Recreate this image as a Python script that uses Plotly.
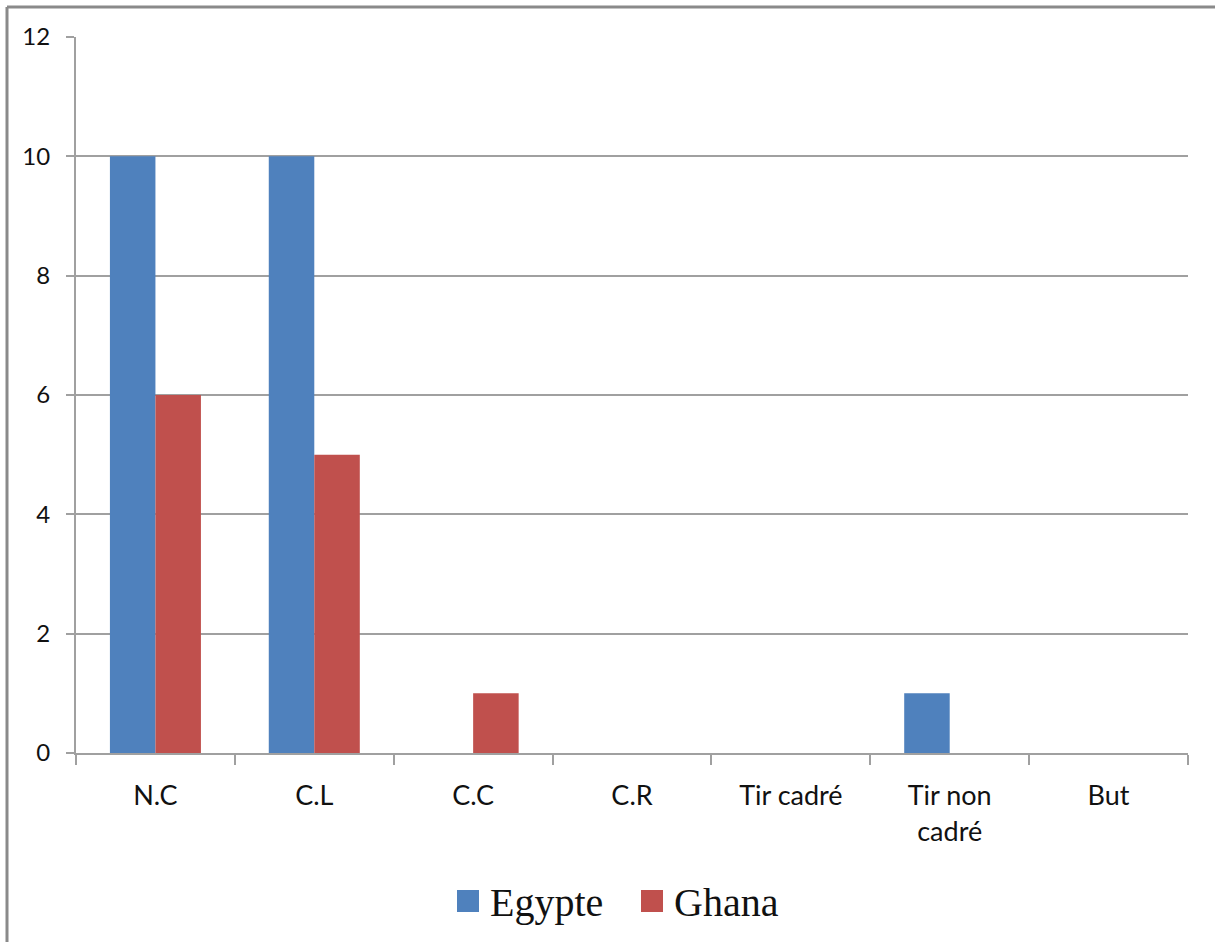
import plotly.graph_objects as go

# Actions counted per team
categories = ["N.C", "C.L", "C.C", "C.R", "Tir cadré", "Tir non<br>cadré", "But"]
egypte = [10, 10, 0, 0, 0, 1, 0]
ghana = [6, 5, 1, 0, 0, 0, 0]
series_names = ["Egypte", "Ghana"]
series_colors = ["#4F81BD", "#C0504D"]

W, H = 1215, 942
L, R, T, B = 76, 27, 37, 189
plot_w, plot_h = W - L - R, H - T - B

fig = go.Figure()
for name, vals, col in zip(series_names, [egypte, ghana], series_colors):
    fig.add_trace(go.Bar(x=categories, y=vals, name=name, marker_color=col,
                         marker_line_width=0, showlegend=False))

fig.update_layout(
    width=W, height=H,
    margin=dict(l=L, r=R, t=T, b=B),
    paper_bgcolor="white", plot_bgcolor="white",
    barmode="group", bargap=0.427, bargroupgap=0,
    font=dict(family="Lato, Open Sans, sans-serif", color="#111111"),
)
fig.update_xaxes(
    type="category", showgrid=False,
    showline=True, linecolor="#a0a0a0", linewidth=2,
    ticks="outside", tickson="boundaries", ticklen=10, tickcolor="#a0a0a0", tickwidth=2,
    tickfont=dict(size=27), ticklabelstandoff=18,
)
fig.update_yaxes(
    range=[0, 12], dtick=2, showgrid=True, gridcolor="#a0a0a0", gridwidth=1.5,
    showline=True, linecolor="#a0a0a0", linewidth=2,
    ticks="outside", ticklen=8, tickcolor="#a0a0a0", tickwidth=2,
    tickfont=dict(size=24), ticklabelstandoff=11, zeroline=False,
)

def px_x(px):
    return (px - L) / plot_w

def px_y(py):
    return (H - B - py) / plot_h

# Outer frame (top and left edges)
fig.add_shape(type="line", xref="paper", yref="paper",
              x0=px_x(7), x1=px_x(W + 5), y0=px_y(7), y1=px_y(7),
              line=dict(color="#8a8a8a", width=3))
fig.add_shape(type="line", xref="paper", yref="paper",
              x0=px_x(7), x1=px_x(7), y0=px_y(7), y1=px_y(H + 5),
              line=dict(color="#8a8a8a", width=3))

# Legend drawn below the plot
legend_items = [(457, 488), (641, 672)]
for (mx, tx), name, col in zip(legend_items, series_names, series_colors):
    fig.add_shape(type="rect", xref="paper", yref="paper",
                  x0=px_x(mx), x1=px_x(mx + 22), y0=px_y(890), y1=px_y(912),
                  fillcolor=col, line=dict(width=0))
    fig.add_annotation(xref="paper", yref="paper", x=px_x(tx), y=px_y(902),
                       xanchor="left", yanchor="middle", showarrow=False,
                       text=name, font=dict(family="Liberation Serif, Times New Roman, serif",
                                            size=40, color="#111111"))

fig.write_html("out.html")
